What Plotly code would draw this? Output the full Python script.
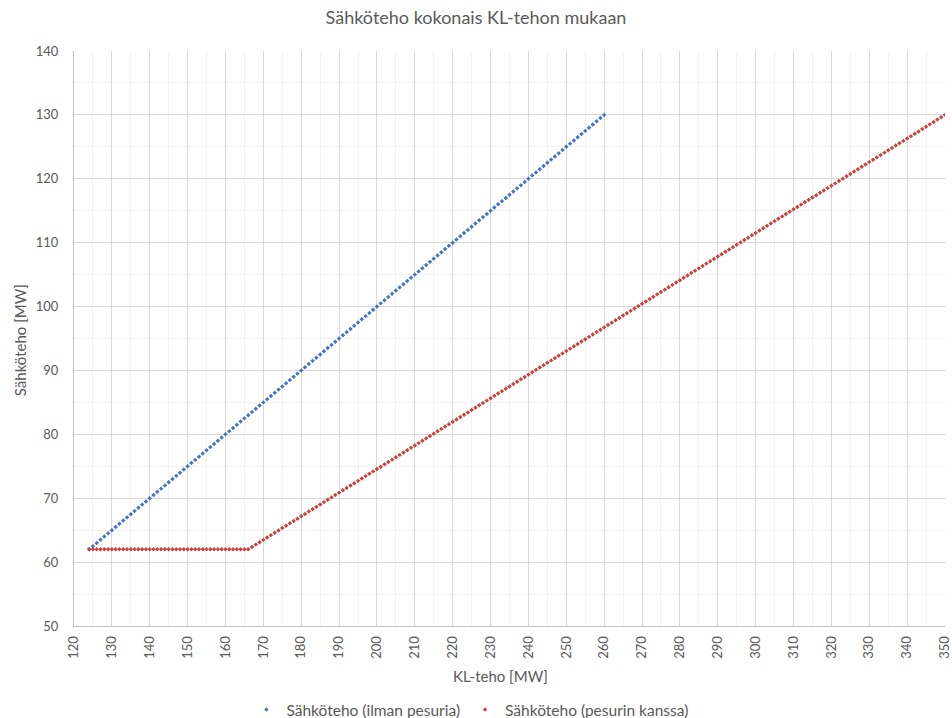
import plotly.graph_objects as go

# KL-teho [MW] and Sähköteho [MW], operation without the scrubber
ilman_x = [124, 125, 126, 127, 128, 129, 130, 131, 132, 133, 134, 135, 136, 137, 138, 139,
           140, 141, 142, 143, 144, 145, 146, 147, 148, 149, 150, 151, 152, 153, 154, 155,
           156, 157, 158, 159, 160, 161, 162, 163, 164, 165, 166, 167, 168, 169, 170, 171,
           172, 173, 174, 175, 176, 177, 178, 179, 180, 181, 182, 183, 184, 185, 186, 187,
           188, 189, 190, 191, 192, 193, 194, 195, 196, 197, 198, 199, 200, 201, 202, 203,
           204, 205, 206, 207, 208, 209, 210, 211, 212, 213, 214, 215, 216, 217, 218, 219,
           220, 221, 222, 223, 224, 225, 226, 227, 228, 229, 230, 231, 232, 233, 234, 235,
           236, 237, 238, 239, 240, 241, 242, 243, 244, 245, 246, 247, 248, 249, 250, 251,
           252, 253, 254, 255, 256, 257, 258, 259, 260]
ilman_y = [62.0, 62.5, 63.0, 63.5, 64.0, 64.5, 65.0, 65.5, 66.0, 66.5, 67.0, 67.5, 68.0, 68.5,
           69.0, 69.5, 70.0, 70.5, 71.0, 71.5, 72.0, 72.5, 73.0, 73.5, 74.0, 74.5, 75.0, 75.5,
           76.0, 76.5, 77.0, 77.5, 78.0, 78.5, 79.0, 79.5, 80.0, 80.5, 81.0, 81.5, 82.0, 82.5,
           83.0, 83.5, 84.0, 84.5, 85.0, 85.5, 86.0, 86.5, 87.0, 87.5, 88.0, 88.5, 89.0, 89.5,
           90.0, 90.5, 91.0, 91.5, 92.0, 92.5, 93.0, 93.5, 94.0, 94.5, 95.0, 95.5, 96.0, 96.5,
           97.0, 97.5, 98.0, 98.5, 99.0, 99.5, 100.0, 100.5, 101.0, 101.5, 102.0, 102.5, 103.0,
           103.5, 104.0, 104.5, 105.0, 105.5, 106.0, 106.5, 107.0, 107.5, 108.0, 108.5, 109.0,
           109.5, 110.0, 110.5, 111.0, 111.5, 112.0, 112.5, 113.0, 113.5, 114.0, 114.5, 115.0,
           115.5, 116.0, 116.5, 117.0, 117.5, 118.0, 118.5, 119.0, 119.5, 120.0, 120.5, 121.0,
           121.5, 122.0, 122.5, 123.0, 123.5, 124.0, 124.5, 125.0, 125.5, 126.0, 126.5, 127.0,
           127.5, 128.0, 128.5, 129.0, 129.5, 130.0]

# KL-teho [MW] and Sähköteho [MW], operation with the scrubber
kanssa_x = [124, 125, 126, 127, 128, 129, 130, 131, 132, 133, 134, 135, 136, 137, 138, 139,
            140, 141, 142, 143, 144, 145, 146, 147, 148, 149, 150, 151, 152, 153, 154, 155,
            156, 157, 158, 159, 160, 161, 162, 163, 164, 165, 166, 167, 168, 169, 170, 171,
            172, 173, 174, 175, 176, 177, 178, 179, 180, 181, 182, 183, 184, 185, 186, 187,
            188, 189, 190, 191, 192, 193, 194, 195, 196, 197, 198, 199, 200, 201, 202, 203,
            204, 205, 206, 207, 208, 209, 210, 211, 212, 213, 214, 215, 216, 217, 218, 219,
            220, 221, 222, 223, 224, 225, 226, 227, 228, 229, 230, 231, 232, 233, 234, 235,
            236, 237, 238, 239, 240, 241, 242, 243, 244, 245, 246, 247, 248, 249, 250, 251,
            252, 253, 254, 255, 256, 257, 258, 259, 260, 261, 262, 263, 264, 265, 266, 267,
            268, 269, 270, 271, 272, 273, 274, 275, 276, 277, 278, 279, 280, 281, 282, 283,
            284, 285, 286, 287, 288, 289, 290, 291, 292, 293, 294, 295, 296, 297, 298, 299,
            300, 301, 302, 303, 304, 305, 306, 307, 308, 309, 310, 311, 312, 313, 314, 315,
            316, 317, 318, 319, 320, 321, 322, 323, 324, 325, 326, 327, 328, 329, 330, 331,
            332, 333, 334, 335, 336, 337, 338, 339, 340, 341, 342, 343, 344, 345, 346, 347,
            348, 349, 350]
kanssa_y = [62, 62, 62, 62, 62, 62, 62, 62, 62, 62, 62, 62, 62, 62, 62, 62, 62, 62, 62, 62,
            62, 62, 62, 62, 62, 62, 62, 62, 62, 62, 62, 62, 62, 62, 62, 62, 62, 62, 62, 62,
            62, 62, 62,
            62.37, 62.74, 63.11, 63.48, 63.85, 64.22, 64.59, 64.96, 65.33, 65.70,
            66.07, 66.43, 66.80, 67.17, 67.54, 67.91, 68.28, 68.65, 69.02, 69.39,
            69.76, 70.13, 70.50, 70.87, 71.24, 71.61, 71.98, 72.35, 72.72, 73.09,
            73.46, 73.83, 74.20, 74.57, 74.93, 75.30, 75.67, 76.04, 76.41, 76.78,
            77.15, 77.52, 77.89, 78.26, 78.63, 79.00, 79.37, 79.74, 80.11, 80.48,
            80.85, 81.22, 81.59, 81.96, 82.33, 82.70, 83.07, 83.43, 83.80, 84.17,
            84.54, 84.91, 85.28, 85.65, 86.02, 86.39, 86.76, 87.13, 87.50, 87.87,
            88.24, 88.61, 88.98, 89.35, 89.72, 90.09, 90.46, 90.83, 91.20, 91.57,
            91.93, 92.30, 92.67, 93.04, 93.41, 93.78, 94.15, 94.52, 94.89, 95.26,
            95.63, 96.00, 96.37, 96.74, 97.11, 97.48, 97.85, 98.22, 98.59, 98.96,
            99.33, 99.70, 100.07, 100.43, 100.80, 101.17, 101.54, 101.91, 102.28, 102.65,
            103.02, 103.39, 103.76, 104.13, 104.50, 104.87, 105.24, 105.61, 105.98, 106.35,
            106.72, 107.09, 107.46, 107.83, 108.20, 108.57, 108.93, 109.30, 109.67, 110.04,
            110.41, 110.78, 111.15, 111.52, 111.89, 112.26, 112.63, 113.00, 113.37, 113.74,
            114.11, 114.48, 114.85, 115.22, 115.59, 115.96, 116.33, 116.70, 117.07, 117.43,
            117.80, 118.17, 118.54, 118.91, 119.28, 119.65, 120.02, 120.39, 120.76, 121.13,
            121.50, 121.87, 122.24, 122.61, 122.98, 123.35, 123.72, 124.09, 124.46, 124.83,
            125.20, 125.57, 125.93, 126.30, 126.67, 127.04, 127.41, 127.78, 128.15, 128.52,
            128.89, 129.26, 129.63, 130.00]

x_ticks = [120, 130, 140, 150, 160, 170, 180, 190, 200, 210, 220, 230, 240, 250, 260,
           270, 280, 290, 300, 310, 320, 330, 340, 350]
y_ticks = [50, 60, 70, 80, 90, 100, 110, 120, 130, 140]

FONT = "Lato, 'Open Sans', sans-serif"
TEXT = "#595959"
GRID = "#d9d9d9"
MINOR = "#f2f2f2"

fig = go.Figure()
fig.add_trace(go.Scatter(
    x=ilman_x, y=ilman_y, mode="markers", name="Sähköteho (ilman pesuria)",
    marker=dict(symbol="diamond", size=3.4, color="#4472c4"),
))
fig.add_trace(go.Scatter(
    x=kanssa_x, y=kanssa_y, mode="markers", name="Sähköteho (pesurin kanssa)",
    marker=dict(symbol="diamond", size=3.4, color="#c9403e"),
))

fig.update_layout(
    width=952, height=718,
    margin=dict(l=74, r=7, t=51, b=92, autoexpand=False),
    paper_bgcolor="white", plot_bgcolor="white",
    font=dict(family=FONT, color=TEXT, size=13),
    title=dict(text="Sähköteho kokonais KL-tehon mukaan", x=0.5, xanchor="center",
               y=0.975, yanchor="middle", font=dict(size=18, color=TEXT, family=FONT)),
    showlegend=True,
    legend=dict(orientation="h", x=0.198, xanchor="left", y=-0.146, yanchor="middle",
                font=dict(size=15.5, color=TEXT, family=FONT), itemwidth=30,
                borderwidth=0),
    annotations=[
        dict(text="KL-teho [MW]", xref="paper", yref="paper", x=0.49, y=-0.087,
             xanchor="center", yanchor="middle", showarrow=False,
             font=dict(size=15, color=TEXT, family=FONT)),
        dict(text="Sähköteho [MW]", xref="paper", yref="paper", x=-0.062, y=0.497,
             xanchor="center", yanchor="middle", showarrow=False, textangle=-90,
             font=dict(size=15, color=TEXT, family=FONT)),
    ],
)

fig.update_xaxes(
    range=[119.999, 350.001], tickvals=x_ticks, ticktext=[str(v) for v in x_ticks],
    tickangle=-90, ticks="outside", ticklen=4, tickcolor="rgba(0,0,0,0)",
    ticklabeloverflow="allow",
    showgrid=True, gridcolor=GRID, gridwidth=1, automargin=False,
    minor=dict(dtick=5, tick0=120, showgrid=True, gridcolor=MINOR, gridwidth=1),
    showline=True, linecolor="#bfbfbf", linewidth=1, zeroline=False,
    tickfont=dict(size=13, color=TEXT, family=FONT),
)
fig.update_yaxes(
    range=[50, 140], tickvals=y_ticks, ticktext=[str(v) for v in y_ticks],
    ticks="outside", ticklen=12, tickcolor="rgba(0,0,0,0)",
    showgrid=True, gridcolor=GRID, gridwidth=1, automargin=False,
    minor=dict(dtick=5, tick0=50, showgrid=True, gridcolor=MINOR, gridwidth=1),
    showline=True, linecolor="#bfbfbf", linewidth=1, zeroline=False,
    tickfont=dict(size=13, color=TEXT, family=FONT),
)

fig.write_html("out.html")
